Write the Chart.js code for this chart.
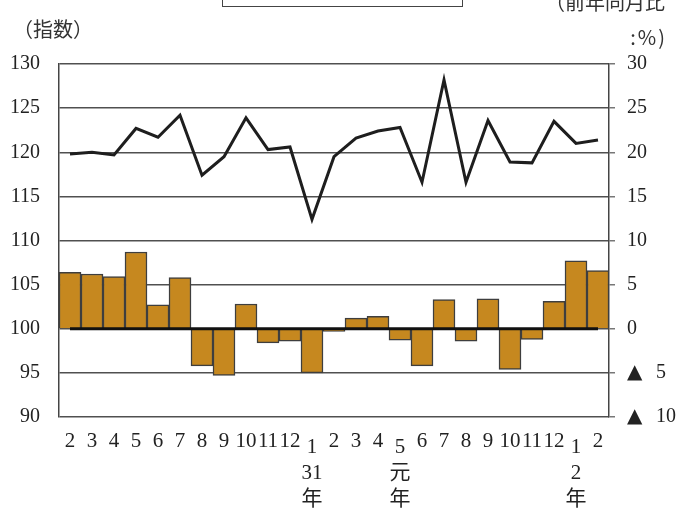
<!DOCTYPE html>
<html>
<head>
<meta charset="utf-8">
<script src="https://cdn.jsdelivr.net/npm/chart.js@4"></script>
<style>
  @font-face {
    font-family: "Tri";
    src: local("DejaVu Sans"), local("DejaVuSans"), local("Noto Sans CJK JP Regular"), local("NotoSansCJKjp-Regular");
    unicode-range: U+25B2;
  }
  body { margin: 0; background: #fff; }
  #wrap { position: relative; width: 680px; height: 508px; }
  .t { position: absolute; font-family: "Noto Sans CJK JP", sans-serif; font-size: 20px; color: #333; white-space: nowrap; line-height: 1; }
  #box { position: absolute; left: 222px; top: -4px; width: 239px; height: 9px; border: 1.5px solid #444; }
</style>
</head>
<body>
<div id="wrap">
  <canvas id="chart" width="680" height="508"></canvas>
  <div id="box"></div>
  <div class="t" style="left:13px; top:19px;">（指数）</div>
  <div class="t" style="right:15px; top:-8px;">（前年同月比</div>
  <div class="t" style="right:13px; top:27px; letter-spacing:2px;">:%)</div>
</div>
<script>
// months, 30年2月 .. 2年2月
const monthLabels = ['2', '3', '4', '5', '6', '7', '8', '9', '10', '11', '12',
  ['1', '31', '年'], '2', '3', '4', ['5', '元', '年'], '6', '7', '8', '9', '10', '11', '12',
  ['1', '2', '年'], '2'];

// 指数 (left axis)
const indexValues = [119.8, 120.0, 119.7, 122.7, 121.7, 124.2, 117.4, 119.5, 123.9, 120.3, 120.6, 112.4,
  119.5, 121.6, 122.4, 122.8, 116.6, 128.2, 116.6, 123.6, 118.9, 118.8, 123.5, 121.0, 121.4];

// 前年同月比 % (right axis)
const yoyValues = [6.4, 6.2, 5.9, 8.7, 2.7, 5.8, -4.2, -5.3, 2.8, -1.6, -1.4, -5.0,
  -0.3, 1.2, 1.4, -1.3, -4.2, 3.3, -1.4, 3.4, -4.6, -1.2, 3.1, 7.7, 6.6];

const zeroLine = [0, 0, 0, 0, 0, 0, 0, 0, 0, 0, 0, 0, 0, 0, 0, 0, 0, 0, 0, 0, 0, 0, 0, 0, 0];

const serif = '"Liberation Serif", "Noto Sans CJK JP", serif';

function draw() {
  new Chart(document.getElementById('chart'), {
    data: {
      labels: monthLabels,
      datasets: [
        {
          type: 'line',
          data: indexValues,
          yAxisID: 'y',
          borderColor: '#1e1e1e',
          borderWidth: 3,
          pointRadius: 0,
          tension: 0,
          order: 0
        },
        {
          type: 'line',
          data: zeroLine,
          yAxisID: 'y1',
          borderColor: '#111',
          borderWidth: 3,
          pointRadius: 0,
          order: 1
        },
        {
          type: 'bar',
          data: yoyValues,
          yAxisID: 'y1',
          backgroundColor: '#c6881f',
          borderColor: '#3e3e3e',
          borderWidth: 1.5,
          barPercentage: 1,
          categoryPercentage: 1,
          order: 2
        }
      ]
    },
    options: {
      responsive: false,
      animation: false,
      layout: { padding: { top: 64, left: 0, right: 0, bottom: 0 } },
      plugins: { legend: { display: false }, tooltip: { enabled: false } },
      scales: {
        x: {
          grid: { display: false },
          border: { display: false },
          ticks: {
            autoSkip: false,
            maxRotation: 0,
            minRotation: 0,
            padding: 9,
            color: '#222',
            font: ctx => {
              const multi = Array.isArray(monthLabels[ctx.index]);
              return { family: serif, size: 21, lineHeight: multi ? 26 / 21 : 15 / 21 };
            }
          },
          afterFit: s => { s.height = 91; }
        },
        y: {
          position: 'left',
          min: 90,
          max: 130,
          ticks: { stepSize: 5, padding: 19, color: '#222', font: { family: serif, size: 20 } },
          grid: { color: '#505050', lineWidth: 1.5, drawTicks: false },
          border: { display: true, color: '#444', width: 1.5 },
          afterFit: s => { s.width = 59; }
        },
        y1: {
          position: 'right',
          min: -10,
          max: 30,
          ticks: {
            stepSize: 5,
            padding: 12,
            color: '#222',
            font: { family: '"Tri", "Liberation Serif", serif', size: 20 },
            callback: v => v < 0 ? '▲\u2002\u2009' + (-v) : String(v)
          },
          grid: { drawOnChartArea: false, drawTicks: true, tickLength: 6, color: '#777', lineWidth: 1.5 },
          border: { display: true, color: '#444', width: 1.5 },
          afterFit: s => { s.width = 71; }
        }
      }
    }
  });
}

document.fonts.load('20px "Tri"', '▲').then(draw, draw);
</script>
</body>
</html>
